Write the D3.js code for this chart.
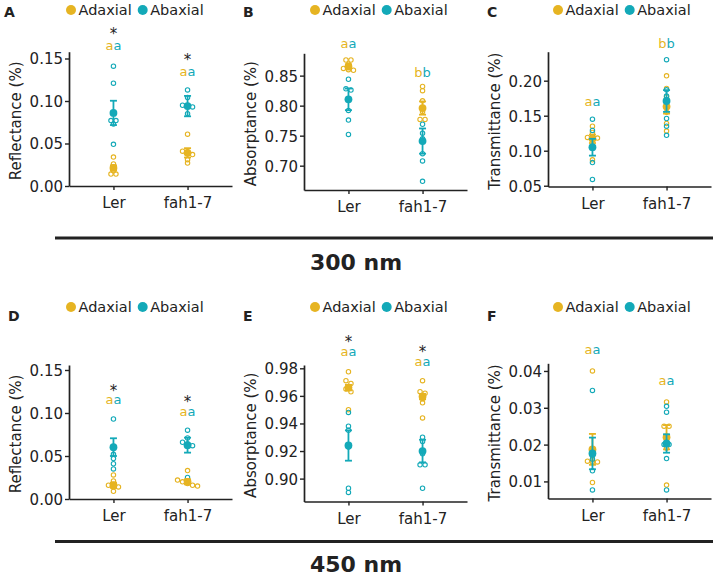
<!DOCTYPE html>
<html><head><meta charset="utf-8">
<script src="https://cdn.jsdelivr.net/npm/d3@7"></script>
<style>
body{margin:0;background:#fff}
svg{display:block}
text{font-family:"DejaVu Sans",sans-serif;fill:#222}
</style>
</head><body>
<svg id="c" width="713" height="577"></svg>
<script>
// ---------------- DATA ----------------
const groups = ["Ler", "fah1-7"];
const sides = ["Adaxial", "Abaxial"];
const colors = ["#E6B422", "#13A9B8"];

// A – Reflectance, 300 nm
const A_adax = [[0.034,0.026,0.022,0.018,0.014,0.014],[0.061,0.041,0.040,0.037,0.031,0.027]];
const A_abax = [[0.141,0.121,0.077,0.077,0.073,0.049],[0.113,0.104,0.095,0.094,0.093,0.085]];
const A_mean = [[0.0213,0.039],[0.086,0.094]];
const A_se   = [[0.003,0.0055],[0.0143,0.012]];
const A_letters = ["aa","aa"], A_letterY = [0.1642,0.1336], A_starY = [0.1825,0.1523];
const A_ticks = [0.00,0.05,0.10,0.15];

// B – Absorptance, 300 nm
const B_adax = [[0.876,0.876,0.869,0.862,0.860,0.859],[0.832,0.825,0.808,0.790,0.777,0.777]];
const B_abax = [[0.844,0.828,0.826,0.792,0.776,0.752],[0.769,0.754,0.745,0.720,0.708,0.674]];
const B_mean = [[0.865,0.796],[0.8105,0.741]];
const B_se   = [[0.004,0.011],[0.018,0.021]];
const B_letters = ["aa","bb"], B_letterY = [0.9012,0.8567], B_starY = [null,null];
const B_ticks = [0.70,0.75,0.80,0.85];

// C – Transmittance, 300 nm
const C_adax = [[0.135,0.126,0.119,0.119,0.118,0.087],[0.207,0.189,0.177,0.155,0.139,0.128]];
const C_abax = [[0.145,0.129,0.120,0.105,0.083,0.059],[0.230,0.187,0.178,0.146,0.135,0.122]];
const C_mean = [[0.117,0.163],[0.105,0.171]];
const C_se   = [[0.006,0.010],[0.012,0.0155]];
const C_letters = ["aa","bb"], C_letterY = [0.1686,0.2543], C_starY = [null,null];
const C_ticks = [0.05,0.10,0.15,0.20];

// D – Reflectance, 450 nm
const D_adax = [[0.028,0.021,0.016,0.014,0.014,0.009],[0.033,0.022,0.020,0.018,0.016,0.015]];
const D_abax = [[0.093,0.061,0.052,0.047,0.041,0.035],[0.080,0.071,0.066,0.064,0.062,0.025]];
const D_mean = [[0.016,0.020],[0.0603,0.0626]];
const D_se   = [[0.003,0.003],[0.0103,0.0087]];
const D_letters = ["aa","aa"], D_letterY = [0.115,0.1008], D_starY = [0.1296,0.1166];
const D_ticks = [0.00,0.05,0.10,0.15];

// E – Absorptance, 450 nm
const E_adax = [[0.9775,0.971,0.969,0.965,0.963,0.950],[0.971,0.963,0.962,0.958,0.955,0.944]];
const E_abax = [[0.948,0.938,0.935,0.923,0.893,0.890],[0.930,0.927,0.918,0.910,0.910,0.893]];
const E_mean = [[0.966,0.9595],[0.924,0.920]];
const E_se   = [[0.002,0.002],[0.011,0.0082]];
const E_letters = ["aa","aa"], E_letterY = [0.9913,0.984], E_starY = [1.0015,0.9942];
const E_ticks = [0.90,0.92,0.94,0.96,0.98];

// F – Transmittance, 450 nm
const F_adax = [[0.040,0.017,0.0155,0.0153,0.0153,0.0097],[0.0316,0.025,0.025,0.022,0.019,0.009]];
const F_abax = [[0.0347,0.018,0.017,0.016,0.0129,0.0077],[0.0304,0.0288,0.020,0.020,0.0162,0.0077]];
const F_mean = [[0.0187,0.022],[0.0176,0.0203]];
const F_se   = [[0.0042,0.0033],[0.0043,0.0025]];
const F_letters = ["aa","aa"], F_letterY = [0.0455,0.0371], F_starY = [null,null];
const F_ticks = [0.01,0.02,0.03,0.04];

const wavelengths = ["300 nm", "450 nm"];

// ---------------- LAYOUT ----------------
const panels = [
  {id:"A", title:"Reflectance (%)",   adax:A_adax, abax:A_abax, mean:A_mean, se:A_se, letters:A_letters, letterY:A_letterY, starY:A_starY, ticks:A_ticks,
   x0:69,  x1:232, yTop:51.7, yBot:186,   domain:[0,0.158],        legX:71,  legY:10,  lx:4,   ly:17},
  {id:"B", title:"Absorptance (%)",   adax:B_adax, abax:B_abax, mean:B_mean, se:B_se, letters:B_letters, letterY:B_letterY, starY:B_starY, ticks:B_ticks,
   x0:304, x1:467, yTop:53.3, yBot:190,   domain:[0.6595,0.8872],  legX:315, legY:10,  lx:243, ly:17},
  {id:"C", title:"Transmittance (%)", adax:C_adax, abax:C_abax, mean:C_mean, se:C_se, letters:C_letters, letterY:C_letterY, starY:C_starY, ticks:C_ticks,
   x0:548, x1:711, yTop:51.7, yBot:186.5, domain:[0.0489,0.2414],  legX:558, legY:10,  lx:487, ly:17},
  {id:"D", title:"Reflectance (%)",   adax:D_adax, abax:D_abax, mean:D_mean, se:D_se, letters:D_letters, letterY:D_letterY, starY:D_starY, ticks:D_ticks,
   x0:69,  x1:232, yTop:365,  yBot:499,   domain:[0,0.1558],       legX:71,  legY:307, lx:8,   ly:321},
  {id:"E", title:"Absorptance (%)",   adax:E_adax, abax:E_abax, mean:E_mean, se:E_se, letters:E_letters, letterY:E_letterY, starY:E_starY, ticks:E_ticks,
   x0:304, x1:467, yTop:365,  yBot:501.5, domain:[0.8834,0.9824],  legX:315, legY:307, lx:243, ly:321},
  {id:"F", title:"Transmittance (%)", adax:F_adax, abax:F_abax, mean:F_mean, se:F_se, letters:F_letters, letterY:F_letterY, starY:F_starY, ticks:F_ticks,
   x0:548, x1:711, yTop:363.3,yBot:498.5, domain:[0.00536,0.04208],legX:558, legY:307, lx:487, ly:321}
];

const FS = 15;
const ink = "#222";
const svg = d3.select("#c");

function dodge(vals, y) {
  const idx = vals.map((v,i)=>({i, py:y(v)})).sort((a,b)=>a.py-b.py);
  const off = new Array(vals.length).fill(0);
  let cluster = [];
  const flush = () => {
    const k = cluster.length;
    cluster.forEach((c,j)=>{ off[c.i] = (j-(k-1)/2)*5; });
    cluster = [];
  };
  idx.forEach(d => {
    if (cluster.length && d.py - cluster[cluster.length-1].py >= 3) flush();
    cluster.push(d);
  });
  flush();
  return off;
}

panels.forEach(p => {
  const x = d3.scalePoint().domain(groups).range([p.x0, p.x1]).padding(0.6);
  const y = d3.scaleLinear().domain(p.domain).range([p.yBot, p.yTop]);
  const g = svg.append("g");

  const ya = g.append("g").attr("transform", `translate(${p.x0},0)`)
    .call(d3.axisLeft(y).tickValues(p.ticks).tickFormat(d3.format(".2f")).tickSize(4).tickSizeOuter(0).tickPadding(2));
  ya.select(".domain").attr("stroke", ink).attr("stroke-width", 1.7);
  ya.selectAll(".tick line").attr("stroke", ink).attr("stroke-width", 1.4);
  ya.selectAll(".tick text").attr("font-size", FS).attr("font-family", "DejaVu Sans").attr("fill", ink).attr("dy", "0.36em");

  const xa = g.append("g").attr("transform", `translate(0,${p.yBot})`)
    .call(d3.axisBottom(x).tickSize(4).tickSizeOuter(0));
  xa.select(".domain").attr("stroke", ink).attr("stroke-width", 1.7);
  xa.selectAll(".tick line").attr("stroke", ink).attr("stroke-width", 1.4);
  xa.selectAll(".tick text").attr("font-size", FS).attr("font-family", "DejaVu Sans").attr("fill", ink).attr("y", 22).attr("dy", null);

  g.append("text")
    .attr("transform", `translate(${p.x0 - 48.3},${(p.yTop + p.yBot) / 2 + 2}) rotate(-90)`)
    .attr("text-anchor", "middle").attr("font-size", FS).text(p.title);

  const series = [p.adax, p.abax];
  series.forEach((s, si) => {
    s.forEach((vals, gi) => {
      const off = dodge(vals, y);
      g.append("g").selectAll("circle").data(vals).join("circle")
        .attr("cx", (d,i) => x(groups[gi]) + off[i])
        .attr("cy", d => y(d))
        .attr("r", 2.2)
        .attr("fill", "none")
        .attr("stroke", colors[si])
        .attr("stroke-width", 1.1);
    });
  });

  [0,1].forEach(si => {
    groups.forEach((grp, gi) => {
      const m = p.mean[si][gi], e = p.se[si][gi], cx = x(grp);
      const eg = g.append("g").attr("stroke", colors[si]).attr("stroke-width", 1.8);
      eg.append("line").attr("x1", cx).attr("x2", cx).attr("y1", y(m - e)).attr("y2", y(m + e));
      eg.append("line").attr("x1", cx - 3.5).attr("x2", cx + 3.5).attr("y1", y(m - e)).attr("y2", y(m - e));
      eg.append("line").attr("x1", cx - 3.5).attr("x2", cx + 3.5).attr("y1", y(m + e)).attr("y2", y(m + e));
      g.append("circle").attr("cx", cx).attr("cy", y(m)).attr("r", 3.9).attr("fill", colors[si]);
    });
  });

  groups.forEach((grp, gi) => {
    const lbl = p.letters[gi];
    const off = /[bdhk]/.test(lbl) ? 0.38 : 0.27;
    const t = g.append("text").attr("x", x(grp)).attr("y", y(p.letterY[gi]) + off * 13)
      .attr("text-anchor", "middle").attr("font-size", 13);
    t.append("tspan").attr("fill", colors[0]).text(lbl[0]);
    t.append("tspan").attr("fill", colors[1]).text(lbl[1]);
    if (p.starY[gi] != null) {
      g.append("text").attr("x", x(grp)).attr("y", y(p.starY[gi]) + 0.56 * 15)
        .attr("text-anchor", "middle").attr("font-size", 15).text("*");
    }
  });

  sides.forEach((s, si) => {
    const lx = p.legX + si * 71.7;
    g.append("circle").attr("cx", lx).attr("cy", p.legY).attr("r", 5).attr("fill", colors[si]);
    g.append("text").attr("x", lx + 7.5).attr("y", p.legY + 0.36 * 14.5).attr("font-size", 14.5).text(s);
  });

  g.append("text").attr("x", p.lx).attr("y", p.ly).attr("font-size", 14).attr("font-weight", "bold").text(p.id);
});

const sepY = [238, 541.5], capY = [270, 572];
wavelengths.forEach((w, i) => {
  svg.append("line").attr("x1", 55).attr("x2", 713).attr("y1", sepY[i]).attr("y2", sepY[i])
    .attr("stroke", ink).attr("stroke-width", 3);
  svg.append("text").attr("x", 356).attr("y", capY[i]).attr("text-anchor", "middle")
    .attr("font-size", 22).attr("font-weight", "bold").text(w);
});
</script>
</body></html>
